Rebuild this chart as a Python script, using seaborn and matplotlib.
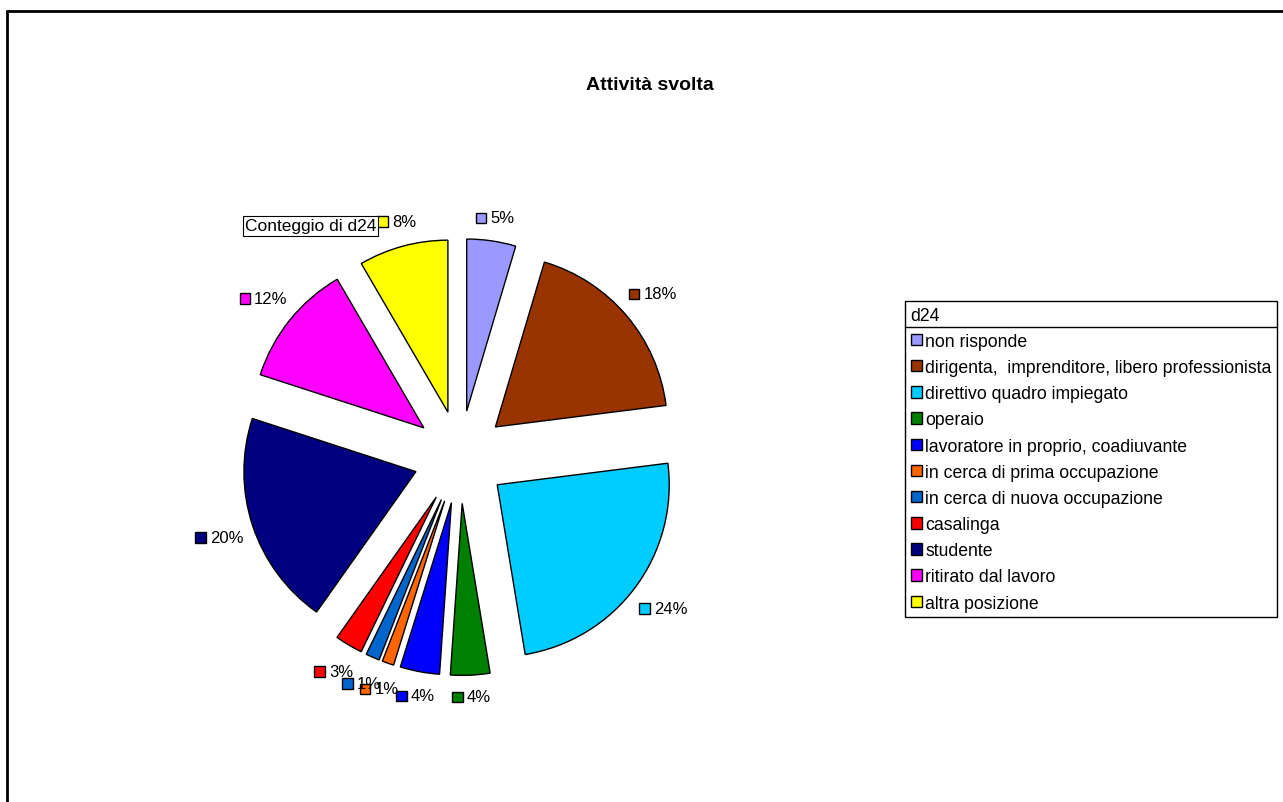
import numpy as np
import matplotlib
matplotlib.use("Agg")
import matplotlib.pyplot as plt
import seaborn as sns
from matplotlib.patches import Patch, Rectangle
from matplotlib.lines import Line2D
from matplotlib.offsetbox import AnnotationBbox, HPacker, TextArea, DrawingArea

# data
categories = [
    "non risponde",
    "dirigenta,  imprenditore, libero professionista",
    "direttivo quadro impiegato",
    "operaio",
    "lavoratore in proprio, coadiuvante",
    "in cerca di prima occupazione",
    "in cerca di nuova occupazione",
    "casalinga",
    "studente",
    "ritirato dal lavoro",
    "altra posizione",
]
shares = [4.6, 18.4, 24.4, 3.7, 3.7, 1.1, 1.3, 2.6, 20.2, 11.6, 8.4]
colors = ["#9999FF", "#993300", "#00CCFF", "#008000", "#0000FF", "#FF6600",
          "#0066CC", "#FF0000", "#000080", "#FF00FF", "#FFFF00"]

sns.set_theme(style="white")
plt.rcParams["font.family"] = ["Liberation Sans", "DejaVu Sans"]
plt.rcParams["text.color"] = "black"

W, H = 1283, 803
fig = plt.figure(figsize=(W / 100, H / 100), dpi=100)
fig.patch.set_facecolor("white")

# axes spans the whole figure; one data unit = pie radius (172 px)
R = 172.0
cx, cy = 460.0, 458.0
ax = fig.add_axes([0, 0, 1, 1])
ax.pie(shares, colors=colors, startangle=90, counterclock=False,
       explode=[0.27] * len(shares), radius=1, center=(0, 0), frame=True,
       wedgeprops=dict(edgecolor="black", linewidth=1.0))
ax.set_xlim(-cx / R, (W - cx) / R)
ax.set_ylim((cy - H) / R, cy / R)
ax.set_aspect("equal")
ax.axis("off")

# data labels with legend key, placed outside each wedge
total = sum(shares)
start = 0.0
for share, col in zip(shares, colors):
    mid = np.deg2rad(start + share / total * 180.0)
    start += share / total * 360.0
    s, c = np.sin(mid), np.cos(mid)
    dist = (232 + abs(s) * 21 + abs(c) * 7) / R
    px, py = dist * s, dist * c
    da = DrawingArea(9, 9, 0, 0)
    da.add_artist(Rectangle((0.5, 0.5), 7.5, 7.5, facecolor=col,
                            edgecolor="black", linewidth=1.0))
    ta = TextArea(f"{share / total * 100:.0f}%",
                  textprops=dict(fontsize=12, color="black"))
    box = HPacker(children=[da, ta], align="center", pad=0, sep=2)
    ab = AnnotationBbox(box, (px, py), box_alignment=(0.5, 0.5),
                        frameon=False, pad=0)
    ax.add_artist(ab)

# title and series name box
fig.text(650 / W, 1 - 85 / H, "Attività svolta", ha="center", va="center",
         fontsize=14, fontweight="bold", color="black")
fig.text(245 / W, 1 - 227 / H, "Conteggio di d24", ha="left", va="center",
         fontsize=12.5, zorder=10, color="black",
         bbox=dict(boxstyle="square,pad=0.12", facecolor="white",
                   edgecolor="black", linewidth=0.8))

# legend
handles = [Patch(facecolor=c, edgecolor="black", linewidth=1.0, label=l)
           for c, l in zip(colors, categories)]
leg = ax.legend(handles=handles, title="d24", loc="upper left",
                bbox_to_anchor=(905 / W, 1 - 302 / H),
                bbox_transform=fig.transFigure, alignment="left",
                fontsize=12.7, title_fontsize=12.7, frameon=True,
                fancybox=False, framealpha=1, edgecolor="black",
                borderpad=0.32, borderaxespad=0, handlelength=0.62,
                handleheight=0.62, handletextpad=0.2, labelspacing=0.52)
leg.get_frame().set_linewidth(1.0)
for t in leg.get_texts():
    t.set_color("black")
leg.get_title().set_color("black")

# separator line under legend title
fig.canvas.draw()
inv = fig.transFigure.inverted()
fb = leg.get_frame().get_window_extent()
tb = leg.get_title().get_window_extent()
y_line = tb.y0 - 3
(x0, yl), (x1, _) = inv.transform([(fb.x0, y_line), (fb.x1, y_line)])
fig.add_artist(Line2D([x0, x1], [yl, yl], color="black", linewidth=1.0))

# outer chart border (left and top visible)
fig.add_artist(Line2D([7 / W, 7 / W], [0, 1 - 12 / H], color="black", linewidth=2))
fig.add_artist(Line2D([7 / W, 1], [1 - 12 / H, 1 - 12 / H], color="black", linewidth=2))

fig.savefig("out.png", dpi=100)
